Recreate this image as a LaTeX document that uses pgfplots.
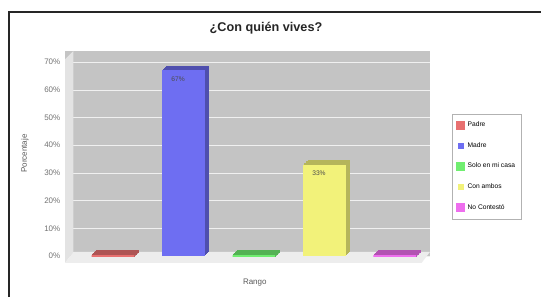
\documentclass[border=0pt]{standalone}
\usepackage{pgfplots}
\pgfplotsset{compat=1.18}
\usepackage{fontspec}
\setmainfont{Liberation Sans}
\definecolor{wall}{HTML}{C4C4C4}
\definecolor{cRed}{HTML}{E87070}
\definecolor{cBlue}{HTML}{6E6EF2}
\definecolor{cGreen}{HTML}{70EE70}
\definecolor{cYellow}{HTML}{F2F27A}
\definecolor{cMag}{HTML}{EE6EEE}
\begin{document}
\begin{tikzpicture}
\path[use as bounding box] (0,0) rectangle (405.75pt,222.75pt);
\fill[white] (0,0) rectangle (405.75pt,222.75pt);
\draw[line width=1.6pt, black!85] (7pt,0) -- (7pt,213.75pt) -- (405.75pt,213.75pt);
\node[font=\bfseries\fontsize{9.5}{11}\selectfont, text=black!85] at (199.5pt,201.5pt) {¿Con quién vives?};
\begin{axis}[
  at={(48.75pt,30.75pt)}, anchor=south west,
  scale only axis, width=273.75pt, height=153.8pt,
  xmin=-0.68, xmax=4.5, ymin=0, ymax=74,
  ytick={0,10,...,70},
  /pgf/number format/assume math mode=true,
  yticklabel={\pgfmathprintnumber{\tick}\%},
  xtick=\empty,
  axis line style={draw=none}, tick style={draw=none},
  axis background/.style={fill=wall},
  ymajorgrids, grid style={white!88!gray, line width=0.3pt},
  ybar, bar width=32pt, bar shift=0pt,
  clip=false,
  ticklabel style={font=\fontsize{6}{7}\selectfont, text=black!55},
  ylabel={Porcentaje}, xlabel={Rango},
  label style={font=\fontsize{6}{7}\selectfont, text=black!65},
  ylabel style={at={(rel axis cs:-0.11,0.5)}, anchor=center},
  xlabel style={at={(rel axis cs:0.52,-0.13)}, anchor=center},
  legend style={at={(1.06,0.694)}, anchor=north west, draw=gray!60, fill=white,
    font=\fontsize{5}{6}\selectfont, row sep=6.3pt, inner xsep=3pt, inner ysep=4pt},
  legend cell align=left,
  legend image code/.code={\fill[#1] (0pt,-2.2pt) rectangle (4.4pt,2.2pt);},
]
% left wall and floor
\fill[gray!22] (axis cs:-0.68,-2.5) -- (axis cs:-0.56,1.5) -- (axis cs:-0.56,74) -- (axis cs:-0.68,71) -- cycle;
\fill[gray!14] (axis cs:-0.68,-2.5) -- (axis cs:4.38,-2.5) -- (axis cs:4.5,1.5) -- (axis cs:-0.56,1.5) -- cycle;
% depth (extrusion) copies
\pgfplotsinvokeforeach{3.5,3,2.5,2,1.5,1,0.5}{
\addplot[fill=cRed!75!black, draw=cRed!75!black, line width=2.2pt, xshift=#1pt, yshift=#1pt, forget plot] coordinates {(0,0)};
\addplot[fill=cBlue!72!black, draw=none, xshift=#1pt, yshift=#1pt, forget plot] coordinates {(1,67)};
\addplot[fill=cGreen!75!black, draw=cGreen!75!black, line width=2.2pt, xshift=#1pt, yshift=#1pt, forget plot] coordinates {(2,0)};
\addplot[fill=cYellow!75!black, draw=none, xshift=#1pt, yshift=#1pt, forget plot] coordinates {(3,33)};
\addplot[fill=cMag!75!black, draw=cMag!75!black, line width=2.2pt, xshift=#1pt, yshift=#1pt, forget plot] coordinates {(4,0)};
}
% front faces
\addplot[fill=cRed, draw=cRed, line width=2.2pt] coordinates {(0,0)};
\addplot[fill=cBlue, draw=none, nodes near coords={\pgfmathprintnumber{\pgfplotspointmeta}\%},
  nodes near coords style={anchor=north, font=\fontsize{5}{6}\selectfont, text=black!70, xshift=-4pt, yshift=-1pt}] coordinates {(1,67)};
\addplot[fill=cGreen, draw=cGreen, line width=2.2pt] coordinates {(2,0)};
\addplot[fill=cYellow, draw=none, nodes near coords={\pgfmathprintnumber{\pgfplotspointmeta}\%},
  nodes near coords style={anchor=north, font=\fontsize{5}{6}\selectfont, text=black!70, xshift=-4pt, yshift=-1pt}] coordinates {(3,33)};
\addplot[fill=cMag, draw=cMag, line width=2.2pt] coordinates {(4,0)};
\legend{Padre, Madre, Solo en mi casa, Con ambos, No Contestó}
\end{axis}
\end{tikzpicture}
\end{document}
